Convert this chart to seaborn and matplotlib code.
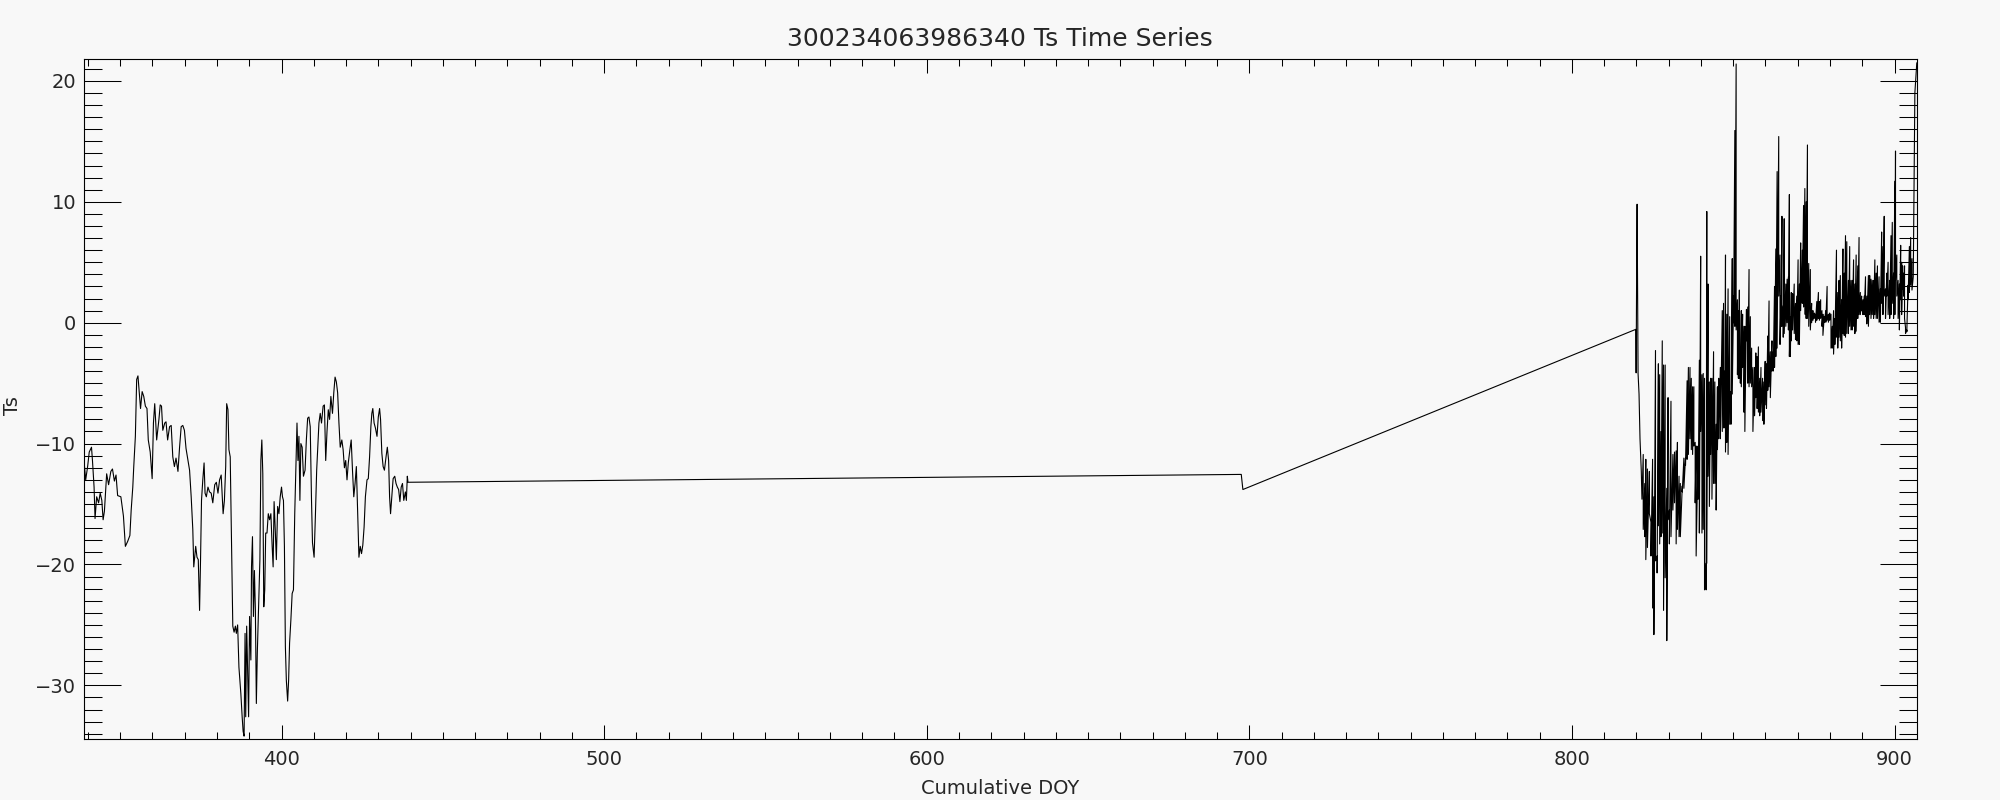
import matplotlib
matplotlib.use("Agg")
import matplotlib.pyplot as plt
from matplotlib.ticker import MultipleLocator
import numpy as np
import pandas as pd
import seaborn as sns

TITLE = "300234063986340 Ts Time Series"
XLABEL = "Cumulative DOY"
YLABEL = "Ts"

# first deployment stretch (DOY / Ts)
left_doy = [
    338.9, 339.3, 339.9, 340.4, 341.1, 341.4, 341.9, 342.2, 342.7, 343.3,
    343.8, 344.3, 344.7, 345.1, 345.8, 346.4, 347.1, 347.6, 348.2, 348.7,
    349.2, 350.2, 351.0, 351.6, 352.3, 353.0, 353.4, 353.9, 354.2, 354.7,
    355.1, 355.5, 355.9, 356.3, 356.8, 357.3, 357.8, 358.3, 358.7, 359.3,
    359.9, 360.3, 360.7, 361.3, 362.0, 362.4, 362.8, 363.2, 363.8, 364.2,
    364.7, 365.3, 365.8, 366.3, 366.8, 367.3, 367.9, 368.4, 368.9, 369.4,
    369.9, 370.4, 371.0, 371.5, 372.0, 372.5, 372.8, 373.4, 373.8, 374.2,
    374.6, 374.9, 375.2, 375.6, 376.0, 376.3, 376.7, 377.2, 377.7, 378.2,
    378.7, 379.3, 379.8, 380.3, 380.8, 381.3, 381.9, 382.3, 382.7, 383.0,
    383.4, 383.7, 384.1, 384.6, 384.9, 385.3, 385.7, 386.0, 386.4, 386.8,
    387.4, 387.8, 388.1, 388.4, 388.7, 388.9, 389.2, 389.5, 389.8, 390.1,
    390.5, 390.7, 391.0, 391.3, 391.6, 391.9, 392.2, 392.5, 392.9, 393.3,
    393.6, 393.9, 394.2, 394.5, 394.8, 395.1, 395.5, 395.9, 396.3, 396.7,
    397.1, 397.4, 397.7, 398.1, 398.4, 398.8, 399.2, 399.6, 400.0, 400.3,
    400.6, 400.9, 401.2, 401.5, 401.9, 402.2, 402.5, 402.9, 403.3, 403.7,
    404.1, 404.5, 404.8, 405.1, 405.4, 405.7, 406.0, 406.4, 406.8, 407.3,
    407.7, 408.1, 408.5, 408.9, 409.3, 409.6, 410.1, 410.5, 410.9, 411.3,
    411.6, 412.0, 412.4, 412.9, 413.3, 413.7, 414.1, 414.5, 414.9, 415.3,
    415.8, 416.2, 416.6, 417.0, 417.4, 417.8, 418.2, 418.7, 419.1, 419.5,
    419.9, 420.3, 420.7, 421.2, 421.6, 422.0, 422.4, 422.8, 423.2, 423.6,
    424.0, 424.4, 424.8, 425.2, 425.6, 426.0, 426.5, 426.9, 427.3, 427.7,
    428.0, 428.3, 428.7, 429.1, 429.6, 430.0, 430.4, 430.7, 431.1, 431.5,
    431.9, 432.4, 432.8, 433.2, 433.5, 433.8, 434.2, 434.6, 435.1, 435.5,
    435.9, 436.3, 436.7, 437.1, 437.5, 437.9, 438.4, 438.7, 439.0, 439.2,
]
left_ts = [
    -11.8, -13.0, -11.9, -10.7, -10.3, -11.4, -13.6, -16.2, -14.4, -14.9,
    -14.1, -14.7, -16.3, -15.6, -12.5, -13.4, -12.3, -12.1, -13.1, -12.6,
    -14.3, -14.4, -16.0, -18.5, -18.1, -17.6, -15.5, -13.6, -11.9, -9.4,
    -4.7, -4.4, -5.7, -7.1, -5.7, -6.1, -6.9, -7.1, -9.7, -10.7,
    -12.9, -8.3, -6.7, -9.7, -8.0, -6.8, -6.9, -8.9, -8.3, -8.2,
    -9.7, -8.6, -8.5, -11.1, -11.9, -11.2, -12.3, -10.3, -8.6, -8.5,
    -8.9, -10.4, -11.4, -12.2, -14.4, -17.1, -20.2, -18.5, -19.4, -19.6,
    -23.8, -19.6, -14.7, -13.0, -11.6, -14.1, -14.4, -13.6, -14.0, -14.1,
    -14.9, -13.4, -13.2, -14.1, -13.0, -12.6, -15.8, -14.7, -11.9, -6.7,
    -7.2, -10.5, -11.1, -19.6, -25.1, -25.6, -25.1, -25.7, -25.0, -28.5,
    -30.7, -32.6, -33.8, -34.2, -25.7, -32.6, -25.1, -28.7, -32.6, -24.3,
    -27.9, -20.2, -17.7, -24.3, -20.5, -23.8, -31.5, -27.3, -23.5, -19.6,
    -11.4, -9.7, -12.5, -23.5, -22.1, -17.4, -17.4, -15.8, -16.3, -15.8,
    -18.5, -20.2, -14.8, -17.4, -19.6, -15.2, -15.8, -14.4, -13.6, -14.4,
    -14.7, -18.5, -26.8, -29.6, -31.3, -29.6, -26.5, -24.6, -22.4, -22.1,
    -15.8, -11.4, -8.3, -11.4, -9.4, -14.7, -10.0, -10.3, -12.7, -12.2,
    -9.7, -7.9, -7.8, -8.6, -14.7, -18.2, -19.4, -16.0, -12.2, -10.0,
    -8.3, -7.5, -8.3, -6.9, -6.8, -11.4, -9.0, -7.2, -8.0, -6.1,
    -7.5, -5.8, -4.5, -4.9, -5.8, -8.3, -10.3, -9.7, -10.5, -12.0,
    -11.4, -13.0, -11.6, -10.5, -9.7, -12.2, -14.4, -13.3, -11.9, -15.8,
    -19.4, -18.5, -19.1, -18.4, -16.9, -14.4, -13.0, -12.9, -11.1, -8.6,
    -7.5, -7.1, -8.3, -8.7, -9.4, -7.8, -7.1, -8.0, -10.8, -11.9,
    -12.2, -11.1, -10.3, -11.4, -14.4, -15.8, -14.4, -12.9, -12.7, -13.3,
    -13.6, -13.8, -14.8, -13.6, -13.3, -14.7, -14.0, -14.7, -12.7, -13.2,
]

# data gap (straight connecting lines) and restart of the record
gap_doy = [697.5, 698.0, 819.8, 819.9, 820.1, 820.2, 820.35, 820.5, 820.8, 821.1, 821.5, 821.7]
gap_ts = [-12.55, -13.8, -0.55, -4.15, 6.4, 9.8, 3.2, -4.2, -5.9, -9.6, -12.3, -14.6]

# second stretch: each sample column swings between a high and a low value
right_doy = [
    822.1, 822.6, 822.9, 823.4, 824.0, 824.5, 825.0, 825.4, 825.9, 826.4,
    826.8, 827.2, 827.6, 828.0, 828.4, 828.9, 829.4, 829.8, 830.2, 830.7,
    831.3, 831.8, 832.3, 832.7, 833.2, 833.6, 834.2, 834.7, 835.2, 835.7,
    836.1, 836.6, 837.0, 837.4, 837.8, 838.2, 838.5, 839.1, 839.5, 839.9,
    840.3, 840.7, 841.1, 841.6, 841.8, 842.2, 842.6, 843.0, 843.4, 843.9,
    844.3, 844.7, 845.1, 845.5, 846.0, 846.6, 847.0, 847.4,
    847.6, 848.0, 848.4, 848.9, 849.3, 849.7, 850.1, 850.5, 850.9, 851.3,
    851.6, 851.9, 852.2, 852.5, 852.9, 853.3, 853.6, 854.1, 854.5, 854.9,
    855.3, 855.7, 856.1, 856.6, 857.0, 857.4, 857.8, 858.2, 858.6, 859.1,
    859.5, 859.9, 860.3, 860.7, 861.1, 861.5, 862.0, 862.4, 862.8, 863.2,
    863.6, 864.1, 864.5, 864.8, 865.1, 865.5, 865.8, 866.3, 866.7, 867.1,
    867.4, 867.7, 868.0, 868.4, 868.9, 869.3, 869.7, 870.1, 870.5, 870.9,
    871.4, 871.8, 872.2, 872.6, 873.0, 873.4, 873.9, 874.3, 874.7, 875.1,
    875.5, 875.9, 876.4,
    876.7, 877.1, 877.5, 877.8, 878.2, 878.7, 879.1, 879.5, 879.9, 880.3,
    880.7, 881.1, 881.5, 882.0, 882.4, 882.8, 883.2, 883.6, 884.0, 884.4,
    884.8, 885.2, 885.7, 886.1, 886.5, 886.9, 887.3, 887.7, 888.1, 888.6,
    889.0, 889.4, 889.8, 890.2, 890.6, 891.0, 891.4, 891.9, 892.3, 892.7,
    893.1, 893.5, 893.9, 894.3, 894.7, 895.2, 895.6, 896.0, 896.4, 896.8,
    897.2, 897.6, 898.0, 898.5, 898.9, 899.3, 899.7, 900.1, 900.3, 900.7,
    901.1, 901.5, 901.9, 902.2, 902.5, 902.8, 903.1, 903.4, 903.8, 904.2,
    904.6, 905.0, 905.4,
]
right_hi = [
    -10.9, -13.3, -11.3, -12.1, -12.3, -16.5, -11.3, -14.4, -2.3, -19.3,
    -3.4, -4.3, -9.0, -1.5, -3.5, -3.5, -13.7, -6.2, -15.5, -6.5,
    -10.9, -10.7, -10.6, -9.9, -12.7, -13.3, -13.5, -11.2, -11.2, -4.8,
    -3.7, -3.7, -4.6, -5.3, -5.3, -9.9, -10.2, -10.2, -3.1, 5.5,
    -4.3, -4.2, -4.6, -19.9, 9.2, 3.2, -4.9, -4.6, -4.6, -2.4,
    -4.9, -8.4, -5.3, -4.6, -3.7, 1.0, 1.6, -4.0,
    5.6, 0.7, 2.8, 0.5, -5.7, 5.3, 2.2, 15.9, 21.4, 1.9,
    1.0, 2.7, -3.7, 1.0, 0.7, -0.3, -0.3, 1.1, 1.3, 4.4,
    0.5, -2.1, -3.7, -3.7, -2.5, -2.8, -2.0, -4.6, -3.7, -4.6,
    -4.9, -3.2, -3.4, -1.1, 1.8, -2.4, -1.5, -2.4, 3.0, 6.1,
    12.5, 15.4, 5.6, 2.2, 8.8, 1.4, 8.6, 3.2, 3.6, 3.8,
    10.6, 0.5, 2.5, 2.4, 3.2, 1.6, 2.2, 5.2, 3.2, 6.6,
    6.0, 9.7, 11.1, 10.0, 14.7, 4.9, 4.4, 1.6, 1.0, 0.8,
    0.7, 1.75, 2.5,
    1.75, 1.9, 1.0, 0.7, 0.5, 1.0, 3.0, 0.7, 0.8, 0.7,
    -0.3, 1.0, 0.35, 6.0, 2.5, 3.5, 3.9, 1.9, 6.1, 4.1,
    7.2, 6.7, 3.5, 6.3, 3.5, 3.5, 5.2, 3.2, 5.6, 4.7,
    7.05, 2.5, 2.2, 1.9, 2.2, 3.8, 2.2, 3.9, 3.9, 3.6,
    3.5, 3.5, 5.2, 4.1, 4.7, 3.8, 2.8, 7.5, 6.3, 8.8,
    2.8, 4.1, 5.0, 3.5, 7.2, 8.3, 4.1, 11.7, 14.2, 5.6,
    3.5, 3.2, 6.4, 5.0, 4.7, 4.1, 4.7, -0.4, -0.6, 3.1,
    6.3, 7.05, 5.3,
]
right_lo = [
    -17.1, -17.7, -19.6, -18.6, -15.8, -19.3, -23.6, -25.8, -19.7, -20.7,
    -16.8, -18.3, -17.7, -17.4, -23.8, -21.1, -26.3, -16.3, -18.3, -17.7,
    -15.5, -14.9, -18.3, -17.1, -17.7, -17.7, -14.0, -13.7, -11.8, -11.3,
    -10.9, -9.6, -10.5, -10.9, -10.2, -14.9, -19.3, -14.6, -17.4, -9.0,
    -17.4, -17.1, -22.1, -22.1, -19.9, -12.7, -15.2, -10.9, -14.6, -13.3,
    -13.3, -15.5, -10.5, -9.6, -9.6, -9.0, -8.7, -8.7,
    -10.7, -9.9, -10.9, -8.4, -8.4, -5.9, 0.0, -0.3, -0.6, -4.3,
    -4.6, -4.6, -5.0, -5.3, -3.7, -7.4, -9.0, -1.5, -5.0, -5.3,
    -5.0, -5.3, -9.0, -7.7, -6.2, -7.1, -7.4, -7.7, -7.4, -8.1,
    -8.4, -6.8, -7.1, -5.6, -5.3, -6.2, -4.0, -4.0, -3.7, -2.8,
    -2.1, 2.2, -1.8, -0.3, -0.3, -1.2, -0.9, -0.3, 0.0, -0.6,
    -2.8, -2.8, -1.5, -0.6, -0.9, -1.4, -1.5, -1.8, -1.8, 1.0,
    1.6, 1.3, 0.7, 0.35, 0.35, -0.3, -0.6, 0.0, 0.2, 0.35,
    0.04, 0.2, 0.35,
    0.2, 0.35, -0.3, -1.05, 0.04, 0.04, 0.2, 0.04, 0.2, -2.1,
    -2.1, -2.6, -1.8, -1.2, -2.1, -1.2, -1.5, -2.1, -0.9, -1.05,
    -1.2, -0.9, -0.9, -0.3, -0.6, -0.6, -0.3, -0.9, -0.7, 0.35,
    0.67, 0.67, 0.98, 0.67, 0.67, 0.5, -0.1, -0.3, 0.67, 0.35,
    0.67, 0.35, 0.67, 0.35, 0.35, 0.04, 0.04, 1.6, 0.67, 2.2,
    0.35, 2.2, 0.67, 0.35, 0.67, 1.6, 0.35, 0.67, 3.5, 2.2,
    0.35, -0.6, 1.9, 0.67, 2.8, 2.2, 0.35, -0.9, -0.75, 1.9,
    2.5, 3.1, 2.7,
]

tail_doy = [905.8, 906.3, 906.9]
tail_ts = [3.8, 19.0, 21.5]

BG = "#f8f8f8"

sns.set_style("ticks")
plt.rcParams["font.family"] = ["DejaVu Sans"]

# each right-hand column is drawn high value first, then low value
spike_doy = np.repeat(right_doy, 2)
spike_ts = np.column_stack([right_hi, right_lo]).ravel()

df = pd.DataFrame({
    "doy": np.concatenate([left_doy, gap_doy, spike_doy, tail_doy]),
    "ts": np.concatenate([left_ts, gap_ts, spike_ts, tail_ts]),
})

fig = plt.figure(figsize=(20, 8), dpi=100, facecolor=BG)
ax = fig.add_axes([0.0422, 0.0759, 0.9162, 0.8500], facecolor=BG)
sns.lineplot(data=df, x="doy", y="ts", sort=False, estimator=None,
             color="black", linewidth=0.8, ax=ax)

ax.set_xlim(338.9, 906.9)
ax.set_ylim(-34.46, 21.79)
ax.set_xlabel(""); ax.set_ylabel("")

ax.xaxis.set_major_locator(MultipleLocator(100))
ax.xaxis.set_minor_locator(MultipleLocator(10))
ax.yaxis.set_major_locator(MultipleLocator(10))
ax.yaxis.set_minor_locator(MultipleLocator(1))

for sp in ax.spines.values():
    sp.set_visible(True)
    sp.set_linewidth(0.8)
    sp.set_color("black")

ax.tick_params(which="both", direction="in", top=True, right=True,
               color="black", width=0.75, labelsize=14)
ax.tick_params(axis="x", which="major", length=10, pad=8)
ax.tick_params(axis="x", which="minor", length=5)
ax.tick_params(axis="y", which="major", length=26.5, pad=6)
ax.tick_params(axis="y", which="minor", length=13)

fig.text(0.5, 1 - 39.5 / 800, TITLE, ha="center", va="center", fontsize=18)
fig.text(0.5, 1 - 788 / 800, XLABEL, ha="center", va="center", fontsize=14)
fig.text(13 / 2000, 1 - 406 / 800, YLABEL, ha="center", va="center",
         rotation=90, fontsize=14)

fig.savefig("out.png", dpi=100, facecolor=BG)
plt.close(fig)
